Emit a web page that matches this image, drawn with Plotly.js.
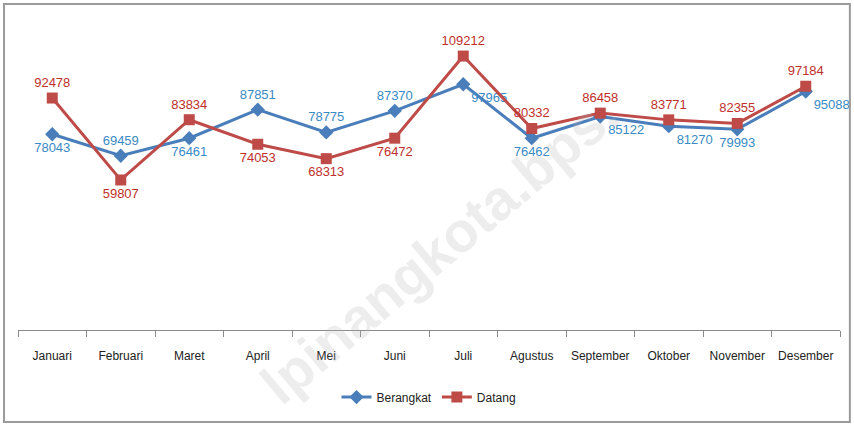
<!DOCTYPE html>
<html>
<head>
<meta charset="utf-8">
<script src="https://cdn.plot.ly/plotly-3.0.1.min.js"></script>
<style>
html,body{margin:0;padding:0;background:#fff;}
#chart{width:854px;height:426px;}
</style>
</head>
<body>
<div id="chart"></div>
<script>
var months = ["Januari","Februari","Maret","April","Mei","Juni","Juli","Agustus","September","Oktober","November","Desember"];
var berangkat = [78043, 69459, 76461, 87851, 78775, 87370, 97965, 76462, 85122, 81270, 79993, 95088];
var datang = [92478, 59807, 83834, 74053, 68313, 76472, 109212, 80332, 86458, 83771, 82355, 97184];

var berangkatPos = ["bottom center","top center","bottom center","top center","top center","top center","bottom right","bottom center","bottom right","bottom right","bottom center","bottom right"];
var datangPos = ["top center","bottom center","top center","bottom center","bottom center","bottom center","top center","top center","top center","top center","top center","top center"];

var fam = "'Liberation Sans', Arial, sans-serif";

var traces = [
  {
    x: months, y: berangkat, name: "Berangkat", type: "scatter", mode: "lines+markers+text",
    line: {color: "#4A7EBB", width: 3},
    marker: {symbol: "diamond", size: 11, color: "#4A7EBB"},
    text: berangkat.map(String), textposition: berangkatPos,
    textfont: {family: fam, size: 13, color: "#3A8AC4"},
    cliponaxis: false
  },
  {
    x: months, y: datang, name: "Datang", type: "scatter", mode: "lines+markers+text",
    line: {color: "#BE4B48", width: 3},
    marker: {symbol: "square", size: 11, color: "#BE4B48"},
    text: datang.map(String), textposition: datangPos,
    textfont: {family: fam, size: 13, color: "#C0302C"},
    cliponaxis: false
  }
];

var layout = {
  width: 854, height: 426,
  margin: {l: 18, r: 14, t: 29, b: 96},
  paper_bgcolor: "#fff", plot_bgcolor: "#fff",
  showlegend: true,
  legend: {orientation: "h", x: 0.5, xanchor: "center", y: -0.223, yanchor: "middle",
           font: {family: fam, size: 12, color: "#222"}, itemwidth: 30, tracegroupgap: 0},
  xaxis: {
    type: "category", range: [-0.5, 11.5], showgrid: false, zeroline: false,
    showline: true, linecolor: "#8a8a8a", linewidth: 1,
    ticks: "outside", tickson: "boundaries", ticklen: 6, tickcolor: "#8a8a8a",
    tickangle: 0, automargin: false, ticklabelstandoff: 15,
    tickfont: {family: fam, size: 12, color: "#222"},
    fixedrange: true
  },
  yaxis: {
    range: [0, 120000], visible: false, showgrid: false, zeroline: false, fixedrange: true, automargin: false
  },
  annotations: [{
    xref: "paper", yref: "paper", x: 0.513, y: 0.27, xanchor: "center", yanchor: "middle",
    text: "lpinangkota.bps.", showarrow: false, textangle: -40,
    font: {family: "Arial, sans-serif", size: 56, color: "rgba(185,185,185,0.25)", weight: "bold"}
  }],
  shapes: [{
    type: "rect", xref: "paper", yref: "paper",
    x0: -0.017, x1: 1.012, y0: -0.306, y1: 1.083,
    line: {color: "#9a9a9a", width: 2}
  }]
};

Plotly.newPlot("chart", traces, layout, {displayModeBar: false, staticPlot: true});
</script>
</body>
</html>
